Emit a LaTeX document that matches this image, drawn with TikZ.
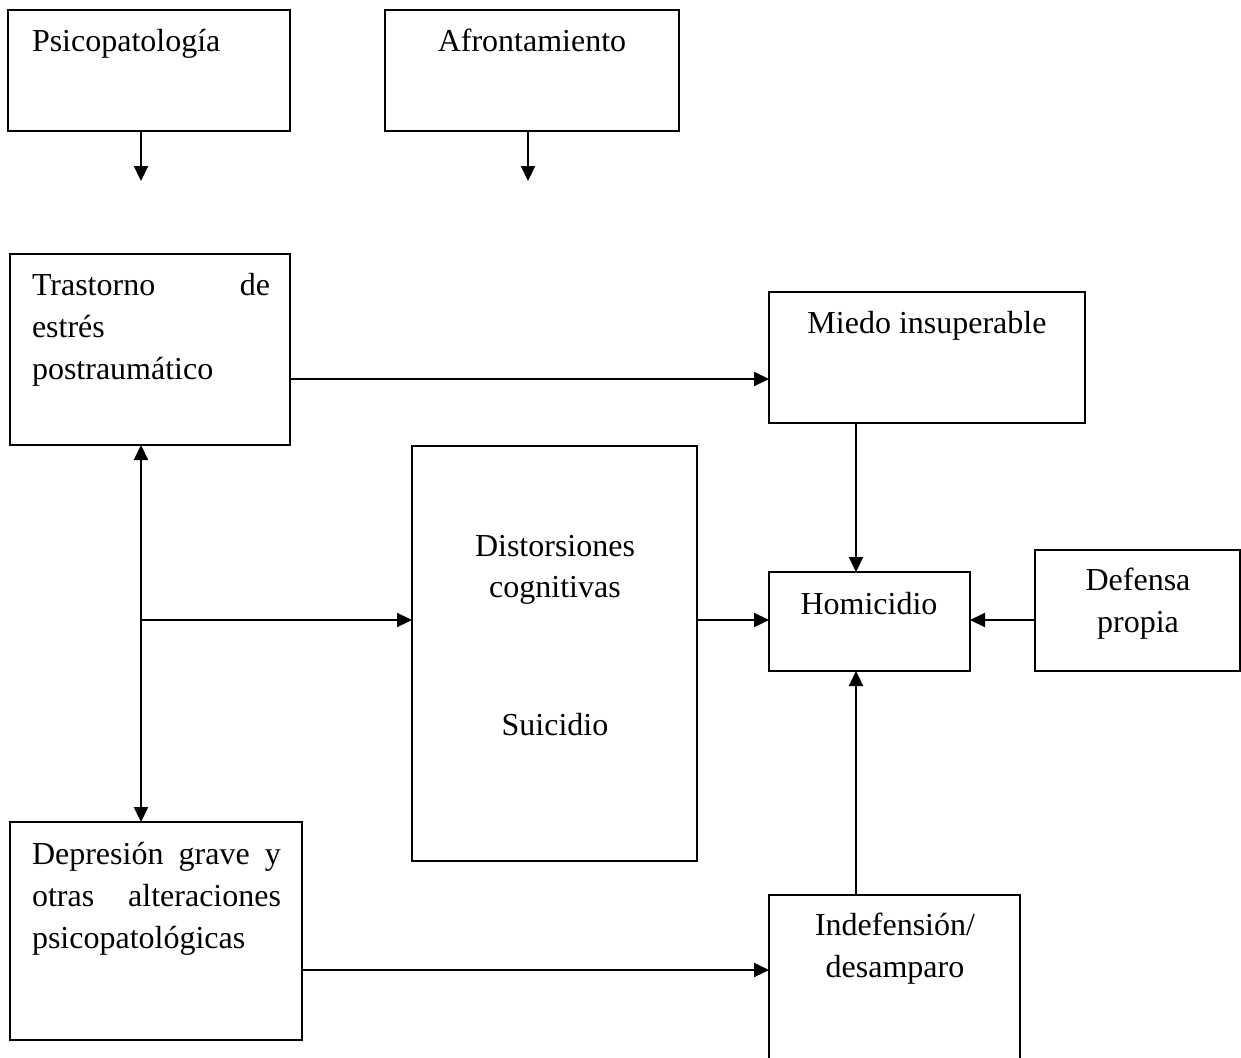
\documentclass[tikz,border=0pt]{standalone}
\usepackage{fontspec}
\setmainfont{Liberation Serif}
\usetikzlibrary{arrows.meta,calc}
\begin{document}
\begin{tikzpicture}[x=1pt,y=-1pt,
  box/.style={draw,line width=2.1pt,inner sep=0pt,outer sep=0pt,anchor=north west},
  txt/.style={inner sep=0pt,outer sep=0pt,font=\fontsize{32}{42}\selectfont},
  conn/.style={line width=2.2pt},
  arr/.style={conn,-{Triangle[length=15pt,width=14pt]}},
  arrb/.style={conn,{Triangle[length=15pt,width=14pt]}-{Triangle[length=15pt,width=14pt]}}]
\useasboundingbox (0,0) rectangle (1241,1057);
% boxes
\node[box,minimum width=282pt,minimum height=121pt] (psico) at (8,10) {};
\node[box,minimum width=294pt,minimum height=121pt] (afron) at (385,10) {};
\node[box,minimum width=280pt,minimum height=191pt] (trast) at (10,254) {};
\node[box,minimum width=316pt,minimum height=131pt] (miedo) at (769,292) {};
\node[box,minimum width=285pt,minimum height=415pt] (dist) at (412,446) {};
\node[box,minimum width=201pt,minimum height=99pt] (homi) at (769,572) {};
\node[box,minimum width=205pt,minimum height=121pt] (def) at (1035,550) {};
\node[box,minimum width=292pt,minimum height=218pt] (depr) at (10,822) {};
\node[inner sep=0pt,outer sep=0pt,anchor=north west,minimum width=251pt,minimum height=175pt] (indef) at (769,895) {};
\draw[line width=2.1pt] (indef.south west) |- (indef.north east) -- (indef.south east);
% texts
\node[txt,anchor=base west] (tpsico) at (32,52) {Psicopatología};
\node[txt,anchor=base] (tafron) at (532,52) {Afrontamiento};
\node[txt,anchor=base west] (ttr1) at (32,295) {\hbox to 238pt{Trastorno\hfil de}};
\node[txt,anchor=base west] (ttr2) at (32,337) {estrés};
\node[txt,anchor=base west] (ttr3) at (32,379) {postraumático};
\node[txt,anchor=base] (tmiedo) at (927,333) {Miedo insuperable};
\node[txt,anchor=base] (tdi1) at (555,556) {Distorsiones};
\node[txt,anchor=base] (tdi2) at (555,597) {cognitivas};
\node[txt,anchor=base] (tdi3) at (555,735) {Suicidio};
\node[txt,anchor=base] (thomi) at (869,614) {Homicidio};
\node[txt,anchor=base] (tdef1) at (1138,590) {Defensa};
\node[txt,anchor=base] (tdef2) at (1138,632) {propia};
\node[txt,anchor=base west] (tde1) at (32,864) {\hbox to 249pt{Depresión\hfil grave\hfil y}};
\node[txt,anchor=base west] (tde2) at (32,906) {\hbox to 249pt{otras\hfil alteraciones}};
\node[txt,anchor=base west] (tde3) at (32,948) {psicopatológicas};
\node[txt,anchor=base] (tin1) at (895,935) {Indefensión/};
\node[txt,anchor=base] (tin2) at (895,977) {desamparo};
% helper coordinates
\coordinate (p1) at (141,181);
\coordinate (a1) at (528,181);
\coordinate (vx) at (141,0);
\coordinate (hx) at (856,0);
\coordinate (r1) at (0,379);
\coordinate (r2) at (0,620);
\coordinate (r3) at (0,970);
% connectors
\draw[arr] (psico.south -| p1) -- (p1);
\draw[arr] (afron.south -| a1) -- (a1);
\draw[arr] (trast.east |- r1) -- (miedo.west |- r1);
\draw[arrb] (trast.south -| vx) -- (depr.north -| vx);
\draw[arr] (vx |- r2) -- (dist.west |- r2);
\draw[arr] (dist.east |- r2) -- (homi.west |- r2);
\draw[arr] (def.west |- r2) -- (homi.east |- r2);
\draw[arr] (miedo.south -| hx) -- (homi.north -| hx);
\draw[arr] (indef.north -| hx) -- (homi.south -| hx);
\draw[arr] (depr.east |- r3) -- (indef.west |- r3);
\end{tikzpicture}
\end{document}
